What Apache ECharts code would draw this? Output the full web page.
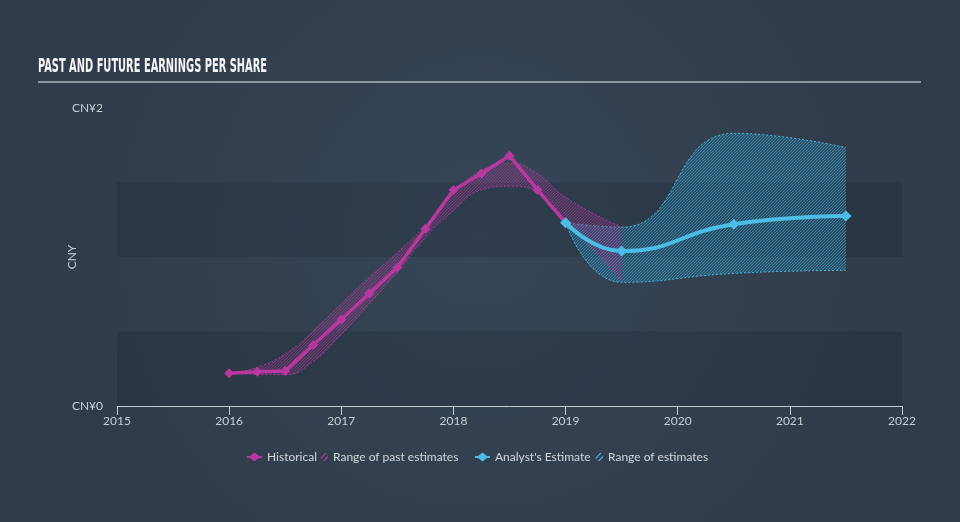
<!DOCTYPE html>
<html>
<head>
<meta charset="utf-8">
<script src="https://cdn.jsdelivr.net/npm/echarts@6/dist/echarts.min.js"></script>
<style>
html,body{margin:0;padding:0;background:#333f50;}
#chart{width:960px;height:522px;}
</style>
</head>
<body>
<div id="chart"></div>
<script>
// ---------- data ----------
var titleText = 'PAST AND FUTURE EARNINGS PER SHARE';
var xTicks = [2015, 2016, 2017, 2018, 2019, 2020, 2021, 2022];
var yTickLabels = {0: 'CN¥0', 2: 'CN¥2'};
var yAxisName = 'CNY';

var histYears = [2016, 2016.25, 2016.5, 2016.75, 2017, 2017.25, 2017.5, 2017.75, 2018, 2018.25, 2018.5, 2018.75, 2019];
var histEPS   = [0.22, 0.23, 0.235, 0.41, 0.58, 0.755, 0.93, 1.19, 1.45, 1.56, 1.68, 1.45, 1.23];

var pastYears = [2016, 2016.25, 2016.5, 2016.75, 2017, 2017.25, 2017.5, 2017.75, 2018, 2018.25, 2018.5, 2018.75, 2019, 2019.5];
var pastLow   = [0.22, 0.213, 0.21, 0.30, 0.48, 0.685, 0.90, 1.13, 1.31, 1.45, 1.475, 1.44, 1.25, 0.84];
var pastHigh  = [0.22, 0.26, 0.35, 0.505, 0.685, 0.865, 1.03, 1.21, 1.425, 1.58, 1.63, 1.56, 1.40, 1.20];

var futYears  = [2019, 2019.5, 2020.5, 2021.5];
var analyst   = [1.23, 1.04, 1.22, 1.275];
var futLow    = [1.23, 0.83, 0.89, 0.91];
var futHigh   = [1.23, 1.20, 1.83, 1.735];

var PINK = '#b8389f';
var CYAN = '#4bbde6';

// ---------- helpers ----------
function hatch(color, bg) {
  var s = 3;
  var c = document.createElement('canvas');
  c.width = s; c.height = s;
  var g = c.getContext('2d');
  g.fillStyle = bg; g.fillRect(0, 0, s, s);
  g.strokeStyle = color; g.lineWidth = 1;
  g.beginPath();
  g.moveTo(0, s); g.lineTo(s, 0);
  g.moveTo(-1, 1); g.lineTo(1, -1);
  g.moveTo(s - 1, s + 1); g.lineTo(s + 1, s - 1);
  g.stroke();
  return c;
}

// Same smoothing as ECharts line "smooth: true" (0.5)
function smoothSeg(pts, smooth, startWithMove) {
  var d = '';
  var n = pts.length;
  var cpx0, cpy0, prevX, prevY;
  for (var i = 0; i < n; i++) {
    var x = pts[i][0], y = pts[i][1];
    if (i === 0) {
      d += (startWithMove ? 'M' : 'L') + x + ',' + y;
      cpx0 = x; cpy0 = y;
    } else {
      var cpx1, cpy1, nextCpx0 = x, nextCpy0 = y;
      if (i + 1 >= n) { cpx1 = x; cpy1 = y; }
      else {
        var nextX = pts[i + 1][0], nextY = pts[i + 1][1];
        var vx = nextX - prevX, vy = nextY - prevY;
        var dx0 = x - prevX, dy0 = y - prevY, dx1 = nextX - x, dy1 = nextY - y;
        var lp = Math.sqrt(dx0 * dx0 + dy0 * dy0), ln = Math.sqrt(dx1 * dx1 + dy1 * dy1);
        var r = ln / (ln + lp);
        nextCpx0 = x + vx * smooth * r; nextCpy0 = y + vy * smooth * r;
        nextCpx0 = Math.min(nextCpx0, Math.max(nextX, x)); nextCpy0 = Math.min(nextCpy0, Math.max(nextY, y));
        nextCpx0 = Math.max(nextCpx0, Math.min(nextX, x)); nextCpy0 = Math.max(nextCpy0, Math.min(nextY, y));
        vx = nextCpx0 - x; vy = nextCpy0 - y;
        cpx1 = x - vx * lp / ln; cpy1 = y - vy * lp / ln;
        cpx1 = Math.min(cpx1, Math.max(prevX, x)); cpy1 = Math.min(cpy1, Math.max(prevY, y));
        cpx1 = Math.max(cpx1, Math.min(prevX, x)); cpy1 = Math.max(cpy1, Math.min(prevY, y));
        vx = x - cpx1; vy = y - cpy1;
        nextCpx0 = x + vx * ln / lp; nextCpy0 = y + vy * ln / lp;
      }
      d += 'C' + cpx0 + ',' + cpy0 + ',' + cpx1 + ',' + cpy1 + ',' + x + ',' + y;
      cpx0 = nextCpx0; cpy0 = nextCpy0;
    }
    prevX = x; prevY = y;
  }
  return d;
}

function bandSeries(name, xs, lows, highs, color, lineColor, bgColor, edgeColor) {
  var pattern = {image: hatch(lineColor, bgColor), repeat: 'repeat'};
  return {
    name: name,
    type: 'custom',
    z: 2,
    itemStyle: {color: color},
    encode: {x: 0, y: [1, 2]},
    data: xs.map(function (x, i) { return [x, lows[i], highs[i]]; }),
    renderItem: function (params, api) {
      if (params.dataIndex !== 0) return null;
      var up = xs.map(function (x, i) { return api.coord([x, highs[i]]); });
      var lo = xs.map(function (x, i) { return api.coord([x, lows[i]]); }).reverse();
      var dUp = smoothSeg(up, 0.5, true);
      var dLo = smoothSeg(lo, 0.5, true);
      var dFill = smoothSeg(up, 0.5, true) + smoothSeg(lo, 0.5, false) + 'Z';
      return {
        type: 'group',
        children: [
          {type: 'path', shape: {pathData: dFill}, style: {fill: pattern, stroke: null}},
          {type: 'path', shape: {pathData: dUp}, style: {fill: null, stroke: edgeColor, lineWidth: 1, lineDash: [2, 2]}},
          {type: 'path', shape: {pathData: dLo}, style: {fill: null, stroke: edgeColor, lineWidth: 1, lineDash: [2, 2]}}
        ]
      };
    }
  };
}

var diamondIcon = 'path://M0,3.5 L3,3.5 L7.5,0 L12,3.5 L15,3.5 L15,5.5 L12,5.5 L7.5,9 L3,5.5 L0,5.5 Z';
var hatchIcon = 'path://M0,5.5 L5,0 L6.5,0 L1.5,5.5 Z M3,8 L8,2.5 L8,4.2 L4.6,8 Z';

// ---------- chart ----------
var chart = echarts.init(document.getElementById('chart'), null, {renderer: 'canvas'});

var mctx = document.createElement('canvas').getContext('2d');
var titleFont = 'bold 20px "DejaVu Sans Condensed"';
mctx.font = titleFont;
var titleScale = 229 / mctx.measureText(titleText).width;

var legendText = {color: '#d3d7dc', fontSize: 12, fontFamily: 'Lato'};
function legendFor(name, left, icon, w, h) {
  return {
    data: [{name: name, icon: icon}],
    left: left, top: 451, itemWidth: w, itemHeight: h, itemGap: 0,
    selectedMode: false, textStyle: legendText, padding: 0
  };
}

var option = {
  backgroundColor: {
    type: 'radial', x: 0.5, y: 0.45, r: 0.75,
    colorStops: [{offset: 0, color: '#364658'}, {offset: 1, color: '#303c4b'}]
  },
  animation: false,
  graphic: [
    {type: 'text', x: 38, y: 67, scaleX: titleScale, scaleY: 1,
     style: {text: titleText, font: titleFont, fill: '#f4f4f4', verticalAlign: 'middle', textVerticalAlign: 'middle'}},
    {type: 'line', shape: {x1: 38, y1: 82, x2: 921, y2: 82}, style: {stroke: '#aeb4bc', lineWidth: 1.5}}
  ],
  legend: [
    legendFor('Historical', 247, diamondIcon, 15, 9),
    legendFor('Range of past estimates', 320, hatchIcon, 8, 8),
    legendFor("Analyst's Estimate", 475, diamondIcon, 15, 9),
    legendFor('Range of estimates', 595, hatchIcon, 8, 8)
  ],
  grid: {left: 117, right: 58, top: 108, bottom: 116},
  xAxis: {
    type: 'value', min: xTicks[0], max: xTicks[xTicks.length - 1], interval: 1,
    axisLine: {show: true, lineStyle: {color: '#c3cad2', width: 1}},
    axisTick: {show: true, length: 9, lineStyle: {color: '#c3cad2'}},
    axisLabel: {color: '#c9ced5', fontSize: 12, fontFamily: 'Lato', margin: 9,
      formatter: function (v) { return String(v); }},
    splitLine: {show: false}
  },
  yAxis: {
    type: 'value', min: 0, max: 2, interval: 0.5,
    name: yAxisName, nameLocation: 'middle', nameRotate: 90, nameGap: 39, nameMoveOverlap: false,
    nameTextStyle: {color: '#c9ced5', fontSize: 12, fontFamily: 'Lato'},
    axisLine: {show: false}, axisTick: {show: false},
    axisLabel: {color: '#c9ced5', fontSize: 12, fontFamily: 'Lato', margin: 14,
      formatter: function (v) { return yTickLabels[v] || ''; }},
    splitLine: {show: false},
    splitArea: {show: true, areaStyle: {color: ['rgba(22,32,46,0.22)', 'rgba(0,0,0,0)']}}
  },
  series: [
    bandSeries('Range of estimates', futYears, futLow, futHigh, CYAN, 'rgba(70,180,222,0.5)', 'rgba(40,140,185,0.25)', 'rgba(75,189,230,0.85)'),
    bandSeries('Range of past estimates', pastYears, pastLow, pastHigh, PINK, 'rgba(184,56,159,0.55)', 'rgba(184,56,159,0.12)', 'rgba(184,56,159,0.85)'),
    {
      name: 'Historical', type: 'line', z: 4,
      data: histYears.map(function (x, i) { return [x, histEPS[i]]; }),
      smooth: false,
      symbol: 'diamond', symbolSize: 10, showSymbol: true,
      lineStyle: {color: PINK, width: 3.5},
      itemStyle: {color: PINK}
    },
    {
      name: "Analyst's Estimate", type: 'line', z: 5,
      data: futYears.map(function (x, i) { return [x, analyst[i]]; }),
      smooth: true,
      symbol: 'diamond', symbolSize: 11, showSymbol: true,
      lineStyle: {color: CYAN, width: 4},
      itemStyle: {color: CYAN}
    }
  ]
};
chart.setOption(option);
</script>
</body>
</html>
